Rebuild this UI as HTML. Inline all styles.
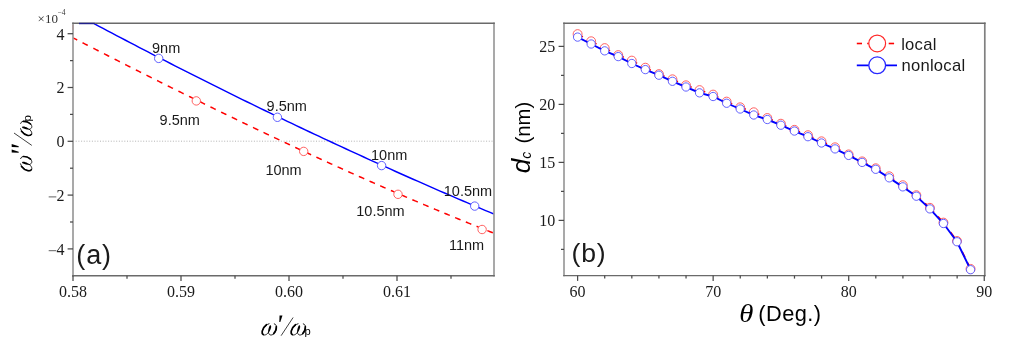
<!DOCTYPE html>
<html><head><meta charset="utf-8"><title>figure</title><style>
html,body{margin:0;padding:0;background:#fff;width:1012px;height:350px;overflow:hidden;}
svg{display:block;will-change:transform;}
</style></head><body><svg width="1012" height="350" viewBox="0 0 1012 350"><defs><clipPath id="ca"><rect x="73.0" y="23.3" width="421.0" height="252.39999999999998"/></clipPath></defs><line x1="73.0" y1="141.2" x2="494.0" y2="141.2" stroke="#a0a0a0" stroke-width="0.8" stroke-dasharray="1 1.7"/><path clip-path="url(#ca)" fill="none" stroke="#ff0000" stroke-width="1.5" d="M73.00,37.83 L74.05,38.37 L75.09,38.91 L76.14,39.45 L77.19,39.98 M82.53,42.72 L83.84,43.40 L85.15,44.07 L86.46,44.74 L87.78,45.42 M93.36,48.27 L94.67,48.95 L95.98,49.62 L97.30,50.29 L98.61,50.96 M103.99,53.70 L105.30,54.37 L106.62,55.04 L107.93,55.71 L109.25,56.38 M114.59,59.10 L115.91,59.77 L117.22,60.43 L118.54,61.10 L119.85,61.77 M125.20,64.48 L126.52,65.14 L127.84,65.81 L129.15,66.48 L130.47,67.14 M135.82,69.84 L137.14,70.50 L138.46,71.17 L139.77,71.83 L141.09,72.49 M146.45,75.19 L147.77,75.85 L149.09,76.51 L150.40,77.17 L151.72,77.83 M157.08,80.52 L158.40,81.17 L159.72,81.83 L161.04,82.49 L162.36,83.15 M167.73,85.83 L169.05,86.48 L170.37,87.14 L171.69,87.80 L173.01,88.45 M178.38,91.12 L179.71,91.77 L181.03,92.42 L182.35,93.08 L183.67,93.73 M189.05,96.39 L190.37,97.04 L191.69,97.69 L193.02,98.34 L194.34,98.99 M199.72,101.64 L201.05,102.29 L202.37,102.94 L203.70,103.59 L205.02,104.23 M210.41,106.87 L211.73,107.51 L213.06,108.16 L214.38,108.81 L215.71,109.45 M221.10,112.07 L222.43,112.72 L223.76,113.36 L225.08,114.01 L226.41,114.65 M231.81,117.26 L233.14,117.90 L234.47,118.54 L235.79,119.18 L237.12,119.82 M242.30,122.31 L243.63,122.95 L244.96,123.59 L246.29,124.22 L247.62,124.86 M252.98,127.43 L254.32,128.06 L255.65,128.70 L256.98,129.33 L258.31,129.97 M263.52,132.44 L264.85,133.07 L266.18,133.71 L267.52,134.34 L268.85,134.97 M274.06,137.43 L275.40,138.06 L276.73,138.69 L278.06,139.32 L279.40,139.94 M284.62,142.39 L285.95,143.02 L287.29,143.65 L288.63,144.27 L289.96,144.90 M295.19,147.33 L296.52,147.95 L297.86,148.58 L299.20,149.20 L300.54,149.82 M305.77,152.24 L307.11,152.86 L308.45,153.48 L309.79,154.10 L311.12,154.72 M316.36,157.13 L317.70,157.74 L319.04,158.36 L320.38,158.97 L321.73,159.58 M326.97,161.98 L328.31,162.59 L329.65,163.20 L331.00,163.81 L332.34,164.42 M337.59,166.81 L338.93,167.41 L340.28,168.02 L341.62,168.63 L342.97,169.23 M348.22,171.60 L349.57,172.20 L350.92,172.81 L352.26,173.41 L353.61,174.01 M358.87,176.36 L360.22,176.96 L361.57,177.56 L362.92,178.16 L364.26,178.76 M369.53,181.10 L370.88,181.69 L372.23,182.29 L373.58,182.88 L374.93,183.48 M380.21,185.80 L381.56,186.39 L382.91,186.98 L384.27,187.57 L385.62,188.16 M390.90,190.46 L392.26,191.05 L393.61,191.64 L394.96,192.22 L396.32,192.81 M401.61,195.10 L402.96,195.68 L404.32,196.26 L405.67,196.84 L407.03,197.43 M412.33,199.69 L413.69,200.27 L415.04,200.85 L416.40,201.43 L417.76,202.00 M423.14,204.28 L424.49,204.86 L425.85,205.43 L427.21,206.00 L428.57,206.58 M433.85,208.79 L435.21,209.36 L436.57,209.93 L437.93,210.50 L439.29,211.06 M444.36,213.17 L445.72,213.73 L447.09,214.30 L448.45,214.86 L449.81,215.42 M455.08,217.59 L456.45,218.15 L457.81,218.71 L459.18,219.27 L460.54,219.83 M465.82,221.98 L467.19,222.53 L468.56,223.09 L469.92,223.64 L471.29,224.19 M476.58,226.32 L477.95,226.87 L479.32,227.42 L480.69,227.97 L482.06,228.52 M487.35,230.62 L488.72,231.17 L490.09,231.71 L491.47,232.25 L492.84,232.80"/><polyline clip-path="url(#ca)" fill="none" stroke="#0000ff" stroke-width="1.45" points="94.10,23.64 98.59,26.03 103.09,28.41 107.58,30.79 112.07,33.17 116.57,35.54 121.06,37.90 125.55,40.26 130.05,42.61 134.54,44.95 139.03,47.29 143.53,49.63 148.02,51.96 152.51,54.28 157.01,56.60 161.50,58.91 165.99,61.21 170.49,63.51 174.98,65.81 179.47,68.10 183.97,70.38 188.46,72.66 192.95,74.93 197.44,77.19 201.94,79.45 206.43,81.71 210.92,83.96 215.42,86.20 219.91,88.44 224.40,90.67 228.90,92.89 233.39,95.11 237.88,97.33 242.38,99.54 246.87,101.74 251.36,103.94 255.86,106.13 260.35,108.31 264.84,110.49 269.34,112.67 273.83,114.84 278.32,117.00 282.82,119.16 287.31,121.31 291.80,123.45 296.30,125.59 300.79,127.73 305.28,129.86 309.78,131.98 314.27,134.10 318.76,136.21 323.26,138.31 327.75,140.41 332.24,142.51 336.74,144.59 341.23,146.68 345.72,148.75 350.22,150.83 354.71,152.89 359.20,154.95 363.70,157.01 368.19,159.05 372.68,161.10 377.18,163.13 381.67,165.16 386.16,167.19 390.66,169.21 395.15,171.22 399.64,173.23 404.13,175.23 408.63,177.23 413.12,179.22 417.61,181.21 422.11,183.19 426.60,185.16 431.09,187.13 435.59,189.09 440.08,191.05 444.57,193.00 449.07,194.95 453.56,196.89 458.05,198.82 462.55,200.75 467.04,202.67 471.53,204.59 476.03,206.50 480.52,208.40 485.01,210.30 489.51,212.20 494.00,214.09"/><circle cx="158.7" cy="58.4" r="4.2" fill="#fff" stroke="#5050ff" stroke-width="0.9"/><circle cx="277.4" cy="117.3" r="4.2" fill="#fff" stroke="#5050ff" stroke-width="0.9"/><circle cx="381.6" cy="165.6" r="4.2" fill="#fff" stroke="#5050ff" stroke-width="0.9"/><circle cx="474.7" cy="206.1" r="4.2" fill="#fff" stroke="#5050ff" stroke-width="0.9"/><circle cx="196.3" cy="100.9" r="4.2" fill="#fff" stroke="#ff5050" stroke-width="0.9"/><circle cx="303.7" cy="151.4" r="4.2" fill="#fff" stroke="#ff5050" stroke-width="0.9"/><circle cx="398" cy="194.3" r="4.2" fill="#fff" stroke="#ff5050" stroke-width="0.9"/><circle cx="482.1" cy="229.5" r="4.2" fill="#fff" stroke="#ff5050" stroke-width="0.9"/><text x="152.0" y="52.9" font-family="Liberation Sans" font-size="14.5" fill="#1a1a1a" text-anchor="start" >9nm</text><text x="159.6" y="124.9" font-family="Liberation Sans" font-size="14.5" fill="#1a1a1a" text-anchor="start" >9.5nm</text><text x="266.6" y="110.9" font-family="Liberation Sans" font-size="14.5" fill="#1a1a1a" text-anchor="start" >9.5nm</text><text x="265.4" y="174.9" font-family="Liberation Sans" font-size="14.5" fill="#1a1a1a" text-anchor="start" >10nm</text><text x="371.0" y="160.3" font-family="Liberation Sans" font-size="14.5" fill="#1a1a1a" text-anchor="start" >10nm</text><text x="356.3" y="215.7" font-family="Liberation Sans" font-size="14.5" fill="#1a1a1a" text-anchor="start" >10.5nm</text><text x="443.8" y="196.3" font-family="Liberation Sans" font-size="14.5" fill="#1a1a1a" text-anchor="start" >10.5nm</text><text x="448.9" y="249.5" font-family="Liberation Sans" font-size="14.5" fill="#1a1a1a" text-anchor="start" >11nm</text><text x="76.3" y="263.6" font-family="Liberation Sans" font-size="27" fill="#1a1a1a" text-anchor="start" letter-spacing="0.9">(a)</text><line x1="73.0" y1="22.6" x2="73.0" y2="276.4" stroke="#9a9a9a" stroke-width="1.7"/><line x1="494.0" y1="22.6" x2="494.0" y2="276.4" stroke="#9a9a9a" stroke-width="1.7"/><line x1="72.2" y1="23.3" x2="494.8" y2="23.3" stroke="#6a6a6a" stroke-width="1.4"/><line x1="72.2" y1="275.7" x2="494.8" y2="275.7" stroke="#6a6a6a" stroke-width="1.4"/><line x1="79" y1="23.5" x2="94.8" y2="23.5" stroke="#20208a" stroke-width="1.45"/><line x1="73" y1="24.8" x2="73" y2="29.8" stroke="#ab9898" stroke-width="1.5"/><line x1="67.6" y1="33.70" x2="73.0" y2="33.70" stroke="#4a4a4a" stroke-width="1.25"/><text x="64.60" y="39.50" font-family="Liberation Serif" font-size="16" fill="#1a1a1a" text-anchor="end">4</text><line x1="67.6" y1="87.50" x2="73.0" y2="87.50" stroke="#4a4a4a" stroke-width="1.25"/><text x="64.60" y="93.30" font-family="Liberation Serif" font-size="16" fill="#1a1a1a" text-anchor="end">2</text><line x1="67.6" y1="141.30" x2="73.0" y2="141.30" stroke="#4a4a4a" stroke-width="1.25"/><text x="64.60" y="147.10" font-family="Liberation Serif" font-size="16" fill="#1a1a1a" text-anchor="end">0</text><line x1="67.6" y1="195.10" x2="73.0" y2="195.10" stroke="#4a4a4a" stroke-width="1.25"/><text x="64.60" y="200.90" font-family="Liberation Serif" font-size="16" fill="#1a1a1a" text-anchor="end">2</text><line x1="48.7" y1="196.90" x2="56.3" y2="196.90" stroke="#444" stroke-width="0.85"/><line x1="67.6" y1="248.90" x2="73.0" y2="248.90" stroke="#4a4a4a" stroke-width="1.25"/><text x="64.60" y="254.70" font-family="Liberation Serif" font-size="16" fill="#1a1a1a" text-anchor="end">4</text><line x1="48.7" y1="250.70" x2="56.3" y2="250.70" stroke="#444" stroke-width="0.85"/><line x1="70.0" y1="60.60" x2="73.0" y2="60.60" stroke="#4a4a4a" stroke-width="1.25"/><line x1="70.0" y1="114.40" x2="73.0" y2="114.40" stroke="#4a4a4a" stroke-width="1.25"/><line x1="70.0" y1="168.20" x2="73.0" y2="168.20" stroke="#4a4a4a" stroke-width="1.25"/><line x1="70.0" y1="222.00" x2="73.0" y2="222.00" stroke="#4a4a4a" stroke-width="1.25"/><line x1="73.00" y1="275.7" x2="73.00" y2="281.0" stroke="#4a4a4a" stroke-width="1.25"/><text x="73.00" y="297.00" font-family="Liberation Serif" font-size="16" fill="#1a1a1a" text-anchor="middle">0.58</text><line x1="181.00" y1="275.7" x2="181.00" y2="281.0" stroke="#4a4a4a" stroke-width="1.25"/><text x="181.00" y="297.00" font-family="Liberation Serif" font-size="16" fill="#1a1a1a" text-anchor="middle">0.59</text><line x1="289.00" y1="275.7" x2="289.00" y2="281.0" stroke="#4a4a4a" stroke-width="1.25"/><text x="289.00" y="297.00" font-family="Liberation Serif" font-size="16" fill="#1a1a1a" text-anchor="middle">0.60</text><line x1="397.00" y1="275.7" x2="397.00" y2="281.0" stroke="#4a4a4a" stroke-width="1.25"/><text x="397.00" y="297.00" font-family="Liberation Serif" font-size="16" fill="#1a1a1a" text-anchor="middle">0.61</text><line x1="127.00" y1="275.7" x2="127.00" y2="278.7" stroke="#4a4a4a" stroke-width="1.25"/><line x1="235.00" y1="275.7" x2="235.00" y2="278.7" stroke="#4a4a4a" stroke-width="1.25"/><line x1="343.00" y1="275.7" x2="343.00" y2="278.7" stroke="#4a4a4a" stroke-width="1.25"/><line x1="451.00" y1="275.7" x2="451.00" y2="278.7" stroke="#4a4a4a" stroke-width="1.25"/><text x="37.6" y="22.6" font-family="Liberation Serif" font-size="13" fill="#333">&#215;10</text><text x="57.6" y="14.8" font-family="Liberation Serif" font-size="7.5" fill="#333">&#8722;4</text><g transform="translate(261.6,335.5)"><g transform="translate(-2.83,-15.5) scale(0.05141388174807198)" fill="none" stroke="#000" stroke-linecap="round"><path d="M200,72 C150,85 95,140 72,200 C55,250 70,292 108,292 C138,292 165,272 186,246" stroke-width="17"/><path d="M186,246 C196,276 215,294 242,292 C292,289 336,222 343,160 C348,112 332,80 302,74" stroke-width="17"/><path d="M150,92 C105,125 76,172 68,215 C62,250 70,272 88,284" stroke-width="32"/><path d="M342,128 C344,176 326,228 290,266" stroke-width="32"/><path d="M236,106 C250,122 238,172 214,212 L190,252 L180,244 C182,200 190,155 206,122 C214,104 228,96 236,106 Z" fill="#000" stroke="none"/></g><polygon points="17.95,-20.00 20.85,-20.00 18.70,-13.50 17.70,-13.50" fill="#000"/><line x1="19.5" y1="0.2" x2="31.5" y2="-18" stroke="#000" stroke-width="0.75"/><g transform="translate(26.17,-15.5) scale(0.05141388174807198)" fill="none" stroke="#000" stroke-linecap="round"><path d="M200,72 C150,85 95,140 72,200 C55,250 70,292 108,292 C138,292 165,272 186,246" stroke-width="17"/><path d="M186,246 C196,276 215,294 242,292 C292,289 336,222 343,160 C348,112 332,80 302,74" stroke-width="17"/><path d="M150,92 C105,125 76,172 68,215 C62,250 70,272 88,284" stroke-width="32"/><path d="M342,128 C344,176 326,228 290,266" stroke-width="32"/><path d="M236,106 C250,122 238,172 214,212 L190,252 L180,244 C182,200 190,155 206,122 C214,104 228,96 236,106 Z" fill="#000" stroke="none"/></g><text x="42.9" y="-0.4" font-family="Liberation Sans" font-size="11.2" fill="#000">p</text></g><g transform="translate(32.3,171.3) rotate(-90)"><g transform="translate(-2.83,-15.5) scale(0.05141388174807198)" fill="none" stroke="#000" stroke-linecap="round"><path d="M200,72 C150,85 95,140 72,200 C55,250 70,292 108,292 C138,292 165,272 186,246" stroke-width="17"/><path d="M186,246 C196,276 215,294 242,292 C292,289 336,222 343,160 C348,112 332,80 302,74" stroke-width="17"/><path d="M150,92 C105,125 76,172 68,215 C62,250 70,272 88,284" stroke-width="32"/><path d="M342,128 C344,176 326,228 290,266" stroke-width="32"/><path d="M236,106 C250,122 238,172 214,212 L190,252 L180,244 C182,200 190,155 206,122 C214,104 228,96 236,106 Z" fill="#000" stroke="none"/></g><polygon points="18.90,-20.60 21.90,-20.60 19.50,-13.60 18.50,-13.60" fill="#000"/><polygon points="24.40,-20.60 27.40,-20.60 25.00,-13.60 24.00,-13.60" fill="#000"/><line x1="25.9" y1="-0.5" x2="38.3" y2="-18.3" stroke="#000" stroke-width="0.75"/><g transform="translate(32.370000000000005,-15.5) scale(0.05141388174807198)" fill="none" stroke="#000" stroke-linecap="round"><path d="M200,72 C150,85 95,140 72,200 C55,250 70,292 108,292 C138,292 165,272 186,246" stroke-width="17"/><path d="M186,246 C196,276 215,294 242,292 C292,289 336,222 343,160 C348,112 332,80 302,74" stroke-width="17"/><path d="M150,92 C105,125 76,172 68,215 C62,250 70,272 88,284" stroke-width="32"/><path d="M342,128 C344,176 326,228 290,266" stroke-width="32"/><path d="M236,106 C250,122 238,172 214,212 L190,252 L180,244 C182,200 190,155 206,122 C214,104 228,96 236,106 Z" fill="#000" stroke="none"/></g><text x="49.9" y="-1.1" font-family="Liberation Sans" font-size="11.5" fill="#000">p</text></g><line x1="577.60" y1="34.1" x2="591.15" y2="41.25" stroke="#ff0000" stroke-width="1.6" stroke-dasharray="6 6"/><line x1="591.15" y1="41.25" x2="604.70" y2="48.1" stroke="#ff0000" stroke-width="1.6" stroke-dasharray="6 6"/><line x1="604.70" y1="48.1" x2="618.25" y2="55.1" stroke="#ff0000" stroke-width="1.6" stroke-dasharray="6 6"/><line x1="618.25" y1="55.1" x2="631.80" y2="60.6" stroke="#ff0000" stroke-width="1.6" stroke-dasharray="6 6"/><line x1="631.80" y1="60.6" x2="645.35" y2="67.7" stroke="#ff0000" stroke-width="1.6" stroke-dasharray="6 6"/><line x1="645.35" y1="67.7" x2="658.90" y2="74.1" stroke="#ff0000" stroke-width="1.6" stroke-dasharray="6 6"/><line x1="658.90" y1="74.1" x2="672.45" y2="79.3" stroke="#ff0000" stroke-width="1.6" stroke-dasharray="6 6"/><line x1="672.45" y1="79.3" x2="686.00" y2="85.3" stroke="#ff0000" stroke-width="1.6" stroke-dasharray="6 6"/><line x1="686.00" y1="85.3" x2="699.55" y2="90.1" stroke="#ff0000" stroke-width="1.6" stroke-dasharray="6 6"/><line x1="699.55" y1="90.1" x2="713.10" y2="94.6" stroke="#ff0000" stroke-width="1.6" stroke-dasharray="6 6"/><line x1="713.10" y1="94.6" x2="726.65" y2="101.6" stroke="#ff0000" stroke-width="1.6" stroke-dasharray="6 6"/><line x1="726.65" y1="101.6" x2="740.20" y2="107.3" stroke="#ff0000" stroke-width="1.6" stroke-dasharray="6 6"/><line x1="740.20" y1="107.3" x2="753.75" y2="112.25" stroke="#ff0000" stroke-width="1.6" stroke-dasharray="6 6"/><line x1="753.75" y1="112.25" x2="767.30" y2="118.0" stroke="#ff0000" stroke-width="1.6" stroke-dasharray="6 6"/><line x1="767.30" y1="118.0" x2="780.85" y2="123.7" stroke="#ff0000" stroke-width="1.6" stroke-dasharray="6 6"/><line x1="780.85" y1="123.7" x2="794.40" y2="129.85" stroke="#ff0000" stroke-width="1.6" stroke-dasharray="6 6"/><line x1="794.40" y1="129.85" x2="807.95" y2="135.2" stroke="#ff0000" stroke-width="1.6" stroke-dasharray="6 6"/><line x1="807.95" y1="135.2" x2="821.50" y2="141.3" stroke="#ff0000" stroke-width="1.6" stroke-dasharray="6 6"/><line x1="821.50" y1="141.3" x2="835.05" y2="147.3" stroke="#ff0000" stroke-width="1.6" stroke-dasharray="6 6"/><line x1="835.05" y1="147.3" x2="848.60" y2="154.4" stroke="#ff0000" stroke-width="1.6" stroke-dasharray="6 6"/><line x1="848.60" y1="154.4" x2="862.15" y2="161.4" stroke="#ff0000" stroke-width="1.6" stroke-dasharray="6 6"/><line x1="862.15" y1="161.4" x2="875.70" y2="168.25" stroke="#ff0000" stroke-width="1.6" stroke-dasharray="6 6"/><line x1="875.70" y1="168.25" x2="889.25" y2="176.3" stroke="#ff0000" stroke-width="1.6" stroke-dasharray="6 6"/><line x1="889.25" y1="176.3" x2="902.80" y2="185.2" stroke="#ff0000" stroke-width="1.6" stroke-dasharray="6 6"/><line x1="902.80" y1="185.2" x2="916.35" y2="195.2" stroke="#ff0000" stroke-width="1.6" stroke-dasharray="6 6"/><line x1="916.35" y1="195.2" x2="929.90" y2="207.8" stroke="#ff0000" stroke-width="1.6" stroke-dasharray="6 6"/><line x1="929.90" y1="207.8" x2="943.45" y2="222.6" stroke="#ff0000" stroke-width="1.6" stroke-dasharray="6 6"/><line x1="943.45" y1="222.6" x2="957.00" y2="241.0" stroke="#ff0000" stroke-width="1.6" stroke-dasharray="6 6"/><line x1="957.00" y1="241.0" x2="970.55" y2="268.9" stroke="#ff0000" stroke-width="1.6" stroke-dasharray="6 6"/><circle cx="577.60" cy="34.1" r="4.45" fill="#fff" stroke="#ff5050" stroke-width="0.9"/><circle cx="591.15" cy="41.25" r="4.45" fill="#fff" stroke="#ff5050" stroke-width="0.9"/><circle cx="604.70" cy="48.1" r="4.45" fill="#fff" stroke="#ff5050" stroke-width="0.9"/><circle cx="618.25" cy="55.1" r="4.45" fill="#fff" stroke="#ff5050" stroke-width="0.9"/><circle cx="631.80" cy="60.6" r="4.45" fill="#fff" stroke="#ff5050" stroke-width="0.9"/><circle cx="645.35" cy="67.7" r="4.45" fill="#fff" stroke="#ff5050" stroke-width="0.9"/><circle cx="658.90" cy="74.1" r="4.45" fill="#fff" stroke="#ff5050" stroke-width="0.9"/><circle cx="672.45" cy="79.3" r="4.45" fill="#fff" stroke="#ff5050" stroke-width="0.9"/><circle cx="686.00" cy="85.3" r="4.45" fill="#fff" stroke="#ff5050" stroke-width="0.9"/><circle cx="699.55" cy="90.1" r="4.45" fill="#fff" stroke="#ff5050" stroke-width="0.9"/><circle cx="713.10" cy="94.6" r="4.45" fill="#fff" stroke="#ff5050" stroke-width="0.9"/><circle cx="726.65" cy="101.6" r="4.45" fill="#fff" stroke="#ff5050" stroke-width="0.9"/><circle cx="740.20" cy="107.3" r="4.45" fill="#fff" stroke="#ff5050" stroke-width="0.9"/><circle cx="753.75" cy="112.25" r="4.45" fill="#fff" stroke="#ff5050" stroke-width="0.9"/><circle cx="767.30" cy="118.0" r="4.45" fill="#fff" stroke="#ff5050" stroke-width="0.9"/><circle cx="780.85" cy="123.7" r="4.45" fill="#fff" stroke="#ff5050" stroke-width="0.9"/><circle cx="794.40" cy="129.85" r="4.45" fill="#fff" stroke="#ff5050" stroke-width="0.9"/><circle cx="807.95" cy="135.2" r="4.45" fill="#fff" stroke="#ff5050" stroke-width="0.9"/><circle cx="821.50" cy="141.3" r="4.45" fill="#fff" stroke="#ff5050" stroke-width="0.9"/><circle cx="835.05" cy="147.3" r="4.45" fill="#fff" stroke="#ff5050" stroke-width="0.9"/><circle cx="848.60" cy="154.4" r="4.45" fill="#fff" stroke="#ff5050" stroke-width="0.9"/><circle cx="862.15" cy="161.4" r="4.45" fill="#fff" stroke="#ff5050" stroke-width="0.9"/><circle cx="875.70" cy="168.25" r="4.45" fill="#fff" stroke="#ff5050" stroke-width="0.9"/><circle cx="889.25" cy="176.3" r="4.45" fill="#fff" stroke="#ff5050" stroke-width="0.9"/><circle cx="902.80" cy="185.2" r="4.45" fill="#fff" stroke="#ff5050" stroke-width="0.9"/><circle cx="916.35" cy="195.2" r="4.45" fill="#fff" stroke="#ff5050" stroke-width="0.9"/><circle cx="929.90" cy="207.8" r="4.45" fill="#fff" stroke="#ff5050" stroke-width="0.9"/><circle cx="943.45" cy="222.6" r="4.45" fill="#fff" stroke="#ff5050" stroke-width="0.9"/><circle cx="957.00" cy="241.0" r="4.45" fill="#fff" stroke="#ff5050" stroke-width="0.9"/><circle cx="970.55" cy="268.9" r="4.45" fill="#fff" stroke="#ff5050" stroke-width="0.9"/><polyline fill="none" stroke="#0000ff" stroke-width="1.9" points="577.60,37.10 591.15,44.00 604.70,50.85 618.25,56.60 631.80,63.50 645.35,69.60 658.90,75.20 672.45,81.30 686.00,87.00 699.55,92.85 713.10,96.50 726.65,103.25 740.20,109.00 753.75,115.00 767.30,119.50 780.85,125.20 794.40,131.05 807.95,136.70 821.50,143.00 835.05,148.90 848.60,155.40 862.15,162.40 875.70,169.30 889.25,177.85 902.80,186.85 916.35,196.20 929.90,208.90 943.45,223.50 957.00,241.75 970.55,269.70"/><circle cx="577.60" cy="37.1" r="4.15" fill="#fff" stroke="#5050ff" stroke-width="0.9"/><circle cx="591.15" cy="44" r="4.15" fill="#fff" stroke="#5050ff" stroke-width="0.9"/><circle cx="604.70" cy="50.85" r="4.15" fill="#fff" stroke="#5050ff" stroke-width="0.9"/><circle cx="618.25" cy="56.6" r="4.15" fill="#fff" stroke="#5050ff" stroke-width="0.9"/><circle cx="631.80" cy="63.5" r="4.15" fill="#fff" stroke="#5050ff" stroke-width="0.9"/><circle cx="645.35" cy="69.6" r="4.15" fill="#fff" stroke="#5050ff" stroke-width="0.9"/><circle cx="658.90" cy="75.2" r="4.15" fill="#fff" stroke="#5050ff" stroke-width="0.9"/><circle cx="672.45" cy="81.3" r="4.15" fill="#fff" stroke="#5050ff" stroke-width="0.9"/><circle cx="686.00" cy="87.0" r="4.15" fill="#fff" stroke="#5050ff" stroke-width="0.9"/><circle cx="699.55" cy="92.85" r="4.15" fill="#fff" stroke="#5050ff" stroke-width="0.9"/><circle cx="713.10" cy="96.5" r="4.15" fill="#fff" stroke="#5050ff" stroke-width="0.9"/><circle cx="726.65" cy="103.25" r="4.15" fill="#fff" stroke="#5050ff" stroke-width="0.9"/><circle cx="740.20" cy="109.0" r="4.15" fill="#fff" stroke="#5050ff" stroke-width="0.9"/><circle cx="753.75" cy="115.0" r="4.15" fill="#fff" stroke="#5050ff" stroke-width="0.9"/><circle cx="767.30" cy="119.5" r="4.15" fill="#fff" stroke="#5050ff" stroke-width="0.9"/><circle cx="780.85" cy="125.2" r="4.15" fill="#fff" stroke="#5050ff" stroke-width="0.9"/><circle cx="794.40" cy="131.05" r="4.15" fill="#fff" stroke="#5050ff" stroke-width="0.9"/><circle cx="807.95" cy="136.7" r="4.15" fill="#fff" stroke="#5050ff" stroke-width="0.9"/><circle cx="821.50" cy="143.0" r="4.15" fill="#fff" stroke="#5050ff" stroke-width="0.9"/><circle cx="835.05" cy="148.9" r="4.15" fill="#fff" stroke="#5050ff" stroke-width="0.9"/><circle cx="848.60" cy="155.4" r="4.15" fill="#fff" stroke="#5050ff" stroke-width="0.9"/><circle cx="862.15" cy="162.4" r="4.15" fill="#fff" stroke="#5050ff" stroke-width="0.9"/><circle cx="875.70" cy="169.3" r="4.15" fill="#fff" stroke="#5050ff" stroke-width="0.9"/><circle cx="889.25" cy="177.85" r="4.15" fill="#fff" stroke="#5050ff" stroke-width="0.9"/><circle cx="902.80" cy="186.85" r="4.15" fill="#fff" stroke="#5050ff" stroke-width="0.9"/><circle cx="916.35" cy="196.2" r="4.15" fill="#fff" stroke="#5050ff" stroke-width="0.9"/><circle cx="929.90" cy="208.9" r="4.15" fill="#fff" stroke="#5050ff" stroke-width="0.9"/><circle cx="943.45" cy="223.5" r="4.15" fill="#fff" stroke="#5050ff" stroke-width="0.9"/><circle cx="957.00" cy="241.75" r="4.15" fill="#fff" stroke="#5050ff" stroke-width="0.9"/><circle cx="970.55" cy="269.7" r="4.15" fill="#fff" stroke="#5050ff" stroke-width="0.9"/><line x1="564.0" y1="22.5" x2="564.0" y2="276.3" stroke="#9a9a9a" stroke-width="1.7"/><line x1="984.8" y1="22.5" x2="984.8" y2="276.3" stroke="#808080" stroke-width="1.7"/><line x1="563.2" y1="23.2" x2="985.5999999999999" y2="23.2" stroke="#6a6a6a" stroke-width="1.4"/><line x1="563.2" y1="275.6" x2="985.5999999999999" y2="275.6" stroke="#6a6a6a" stroke-width="1.4"/><line x1="558.6" y1="46.40" x2="564.0" y2="46.40" stroke="#4a4a4a" stroke-width="1.25"/><text x="555.20" y="52.10" font-family="Liberation Serif" font-size="16" fill="#1a1a1a" text-anchor="end">25</text><line x1="558.6" y1="104.40" x2="564.0" y2="104.40" stroke="#4a4a4a" stroke-width="1.25"/><text x="555.20" y="110.10" font-family="Liberation Serif" font-size="16" fill="#1a1a1a" text-anchor="end">20</text><line x1="558.6" y1="162.40" x2="564.0" y2="162.40" stroke="#4a4a4a" stroke-width="1.25"/><text x="555.20" y="168.10" font-family="Liberation Serif" font-size="16" fill="#1a1a1a" text-anchor="end">15</text><line x1="558.6" y1="220.40" x2="564.0" y2="220.40" stroke="#4a4a4a" stroke-width="1.25"/><text x="555.20" y="226.10" font-family="Liberation Serif" font-size="16" fill="#1a1a1a" text-anchor="end">10</text><line x1="561.0" y1="75.40" x2="564.0" y2="75.40" stroke="#4a4a4a" stroke-width="1.25"/><line x1="561.0" y1="133.40" x2="564.0" y2="133.40" stroke="#4a4a4a" stroke-width="1.25"/><line x1="561.0" y1="191.40" x2="564.0" y2="191.40" stroke="#4a4a4a" stroke-width="1.25"/><line x1="561.0" y1="249.40" x2="564.0" y2="249.40" stroke="#4a4a4a" stroke-width="1.25"/><line x1="577.60" y1="275.6" x2="577.60" y2="280.90000000000003" stroke="#4a4a4a" stroke-width="1.25"/><text x="577.60" y="296.60" font-family="Liberation Serif" font-size="16" fill="#1a1a1a" text-anchor="middle">60</text><line x1="604.71" y1="275.6" x2="604.71" y2="278.6" stroke="#4a4a4a" stroke-width="1.25"/><line x1="631.82" y1="275.6" x2="631.82" y2="278.6" stroke="#4a4a4a" stroke-width="1.25"/><line x1="658.93" y1="275.6" x2="658.93" y2="278.6" stroke="#4a4a4a" stroke-width="1.25"/><line x1="686.04" y1="275.6" x2="686.04" y2="278.6" stroke="#4a4a4a" stroke-width="1.25"/><line x1="713.15" y1="275.6" x2="713.15" y2="280.90000000000003" stroke="#4a4a4a" stroke-width="1.25"/><text x="713.15" y="296.60" font-family="Liberation Serif" font-size="16" fill="#1a1a1a" text-anchor="middle">70</text><line x1="740.26" y1="275.6" x2="740.26" y2="278.6" stroke="#4a4a4a" stroke-width="1.25"/><line x1="767.37" y1="275.6" x2="767.37" y2="278.6" stroke="#4a4a4a" stroke-width="1.25"/><line x1="794.48" y1="275.6" x2="794.48" y2="278.6" stroke="#4a4a4a" stroke-width="1.25"/><line x1="821.59" y1="275.6" x2="821.59" y2="278.6" stroke="#4a4a4a" stroke-width="1.25"/><line x1="848.70" y1="275.6" x2="848.70" y2="280.90000000000003" stroke="#4a4a4a" stroke-width="1.25"/><text x="848.70" y="296.60" font-family="Liberation Serif" font-size="16" fill="#1a1a1a" text-anchor="middle">80</text><line x1="875.81" y1="275.6" x2="875.81" y2="278.6" stroke="#4a4a4a" stroke-width="1.25"/><line x1="902.92" y1="275.6" x2="902.92" y2="278.6" stroke="#4a4a4a" stroke-width="1.25"/><line x1="930.03" y1="275.6" x2="930.03" y2="278.6" stroke="#4a4a4a" stroke-width="1.25"/><line x1="957.14" y1="275.6" x2="957.14" y2="278.6" stroke="#4a4a4a" stroke-width="1.25"/><line x1="984.25" y1="275.6" x2="984.25" y2="280.90000000000003" stroke="#4a4a4a" stroke-width="1.25"/><text x="984.25" y="296.60" font-family="Liberation Serif" font-size="16" fill="#1a1a1a" text-anchor="middle">90</text><text x="571.4" y="262.2" font-family="Liberation Sans" font-size="26.6" fill="#1a1a1a" text-anchor="start" letter-spacing="0.9">(b)</text><line x1="856.8" y1="43.5" x2="862" y2="43.5" stroke="#ff0000" stroke-width="1.6"/><line x1="867.2" y1="43.5" x2="869" y2="43.5" stroke="#ff0000" stroke-width="1.6"/><line x1="888.7" y1="43.5" x2="894.1" y2="43.5" stroke="#ff0000" stroke-width="1.6"/><circle cx="877.2" cy="43.45" r="8.4" fill="#fff" stroke="#ff2a2a" stroke-width="1.2"/><line x1="856.8" y1="65.3" x2="897" y2="65.3" stroke="#0000ff" stroke-width="1.7"/><circle cx="877.2" cy="65.3" r="8.4" fill="#fff" stroke="#2a2aff" stroke-width="1.3"/><text x="901.2" y="49.8" font-family="Liberation Sans" font-size="16.6" fill="#1a1a1a" text-anchor="start" letter-spacing="0.25">local</text><text x="901.5" y="71" font-family="Liberation Sans" font-size="16.6" fill="#1a1a1a" text-anchor="start" letter-spacing="0.25">nonlocal</text><g transform="translate(739.2,321.8) scale(1.15,1)"><text x="0" y="0" font-family="Liberation Serif" font-size="25" font-style="italic" fill="#000">&#952;</text></g><text x="758.3" y="320.8" font-family="Liberation Sans" font-size="21.8" fill="#000" text-anchor="start" letter-spacing="0.45">(Deg.)</text><g transform="translate(530.3,173.3) rotate(-90)"><text x="0" y="0" font-family="Liberation Sans" font-size="26" font-style="italic" fill="#000">d</text><text x="14.5" y="0.5" font-family="Liberation Sans" font-size="14" font-style="italic" fill="#000">c</text><text x="29.8" y="0" font-family="Liberation Sans" font-size="20.3" fill="#000">(nm)</text></g></svg></body></html>
